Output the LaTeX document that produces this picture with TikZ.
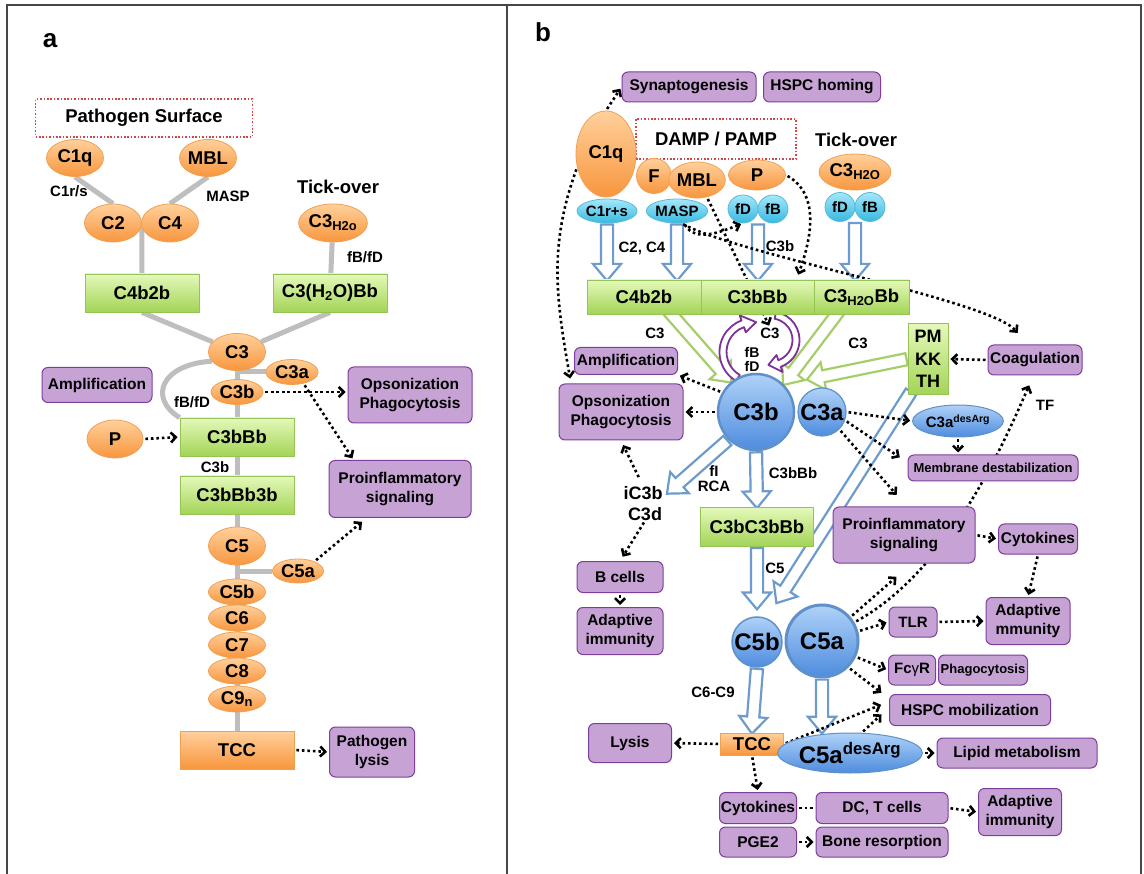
\documentclass[tikz,border=0pt]{standalone}
\usepackage{fontspec}
\setmainfont{Liberation Sans}
\usetikzlibrary{calc,shapes.geometric,shapes.arrows,arrows.meta,backgrounds}

\definecolor{framegray}{RGB}{70,70,70}
\definecolor{orangetop}{RGB}{255,208,155}
\definecolor{orangebot}{RGB}{248,150,62}
\definecolor{orangeline}{RGB}{240,160,85}
\definecolor{greentop}{RGB}{228,249,186}
\definecolor{greenbot}{RGB}{163,212,86}
\definecolor{greenline}{RGB}{150,195,85}
\definecolor{lilac}{RGB}{198,163,212}
\definecolor{lilacline}{RGB}{125,62,155}
\definecolor{cyantop}{RGB}{165,232,250}
\definecolor{cyanbot}{RGB}{55,185,225}
\definecolor{cyanline}{RGB}{90,185,215}
\definecolor{bluetop}{RGB}{175,210,248}
\definecolor{bluebot}{RGB}{78,140,222}
\definecolor{blueline}{RGB}{95,145,200}
\definecolor{arrowblue}{RGB}{110,155,205}
\definecolor{arrowgreen}{RGB}{165,205,105}
\definecolor{loopviolet}{RGB}{125,50,155}
\definecolor{linkgray}{RGB}{190,190,190}
\definecolor{surfred}{RGB}{210,70,70}

\newcommand\fsbig{\fontsize{18.5}{20}\selectfont}
\newcommand\fsmid{\fontsize{15.5}{19}\selectfont}
\newcommand\fssmall{\fontsize{15}{15}\selectfont}
\newcommand\fstiny{\fontsize{13}{15}\selectfont}
\newcommand\fshuge{\fontsize{24}{26}\selectfont}

\def\hollowarrow[#1](#2)(#3){\path let \p1=($(#3)-(#2)$), \n1={atan2(\y1,\x1)}, \n2={veclen(\x1,\y1)} in node[hollow, draw=#1, minimum height=\n2, rotate=\n1, anchor=tail] at (#2) {};}
\def\curlarrow[#1](#2)(#3:#4:#5){\draw[#1] ($(#2)+(#3:#5+3.5)$) arc[start angle=#3, end angle=#4, radius=#5+3.5] -- ($(#2)+(#4:#5+9)$) -- ($(#2)+(#4+26:#5)$) -- ($(#2)+(#4:#5-9)$) -- ($(#2)+(#4:#5-3.5)$) arc[start angle=#4, end angle=#3, radius=#5-3.5] -- cycle;}

\tikzset{
	org/.style={ellipse, draw=orangeline, line width=0.8pt, top color=orangetop, bottom color=orangebot, inner sep=0pt, font=\bfseries\fsbig},
	tccbox/.style={rectangle, draw=orangeline, line width=0.8pt, top color=orangetop, bottom color=orangebot, inner sep=0pt, font=\bfseries\fsbig},
	grn/.style={rectangle, draw=greenline, line width=0.8pt, top color=greentop, bottom color=greenbot, inner sep=0pt, font=\bfseries\fsbig},
	lil/.style={rectangle, rounded corners=6pt, draw=lilacline, line width=1pt, fill=lilac, inner sep=0pt, align=center, font=\bfseries\fsmid},
	cyn/.style={ellipse, draw=cyanline, line width=0.8pt, top color=cyantop, bottom color=cyanbot, inner sep=0pt, font=\bfseries\fssmall},
	blu/.style={circle, draw=blueline, line width=2.5pt, top color=bluetop, bottom color=bluebot, inner sep=0pt, font=\bfseries\fshuge},
	bluell/.style={ellipse, draw=blueline, line width=1pt, top color=bluetop, bottom color=bluebot, inner sep=0pt},
	lbl/.style={inner sep=0pt, align=center, font=\bfseries\fssmall},
	surf/.style={draw=surfred, line width=1.3pt, dash pattern=on 1.6pt off 1.8pt, inner sep=0pt, font=\bfseries\fsbig},
	link/.style={draw=linkgray, line width=5pt},
	dotline/.style={line width=2.6pt, dash pattern=on 2.6pt off 2.9pt},
	dotarrow/.style={dotline, shorten >=2pt, shorten <=2pt, -{Straight Barb[length=5pt,width=10pt]}},
	hollow/.style={single arrow, fill=white, line width=2.2pt, inner sep=5pt, single arrow head extend=8pt, single arrow tip angle=80},
	curl/.style={draw=loopviolet, line width=1.8pt, fill=white, line join=round},
	frame/.style={draw=framegray, line width=2pt}
}

\begin{document}
\begin{tikzpicture}[x=1pt, y=-1pt]
	\useasboundingbox (0,0) rectangle (1144,874);
	%%%%% FRAME %%%%%
	\draw[frame] (7,874) -- (7,5) -- (1141,5) -- (1141,874);
	\draw[frame] (507,5) -- (507,874);
	\node[font=\bfseries\fontsize{26}{28}\selectfont] (labA) at (50,41) {a};
	\node[font=\bfseries\fontsize{26}{28}\selectfont] (labB) at (543,32) {b};

	%%%%% PANEL A %%%%%
	\node[surf, minimum width=217, minimum height=38] (aSurf) at (144,118) {Pathogen Surface};
	\node[org, minimum width=57, minimum height=37] (aC1q) at (75,158) {C1q};
	\node[org, minimum width=57, minimum height=37] (aMBL) at (208,158) {MBL};
	\node[lbl] (aC1rs) at (69,191) {C1r/s};
	\node[lbl] (aMASP) at (228,196) {MASP};
	\node[org, minimum width=57, minimum height=38] (aC2) at (113,223) {C2};
	\node[org, minimum width=57, minimum height=38] (aC4) at (170,223) {C4};
	\node[lbl, font=\bfseries\fsbig] (aTick) at (338,187) {Tick-over};
	\node[org, minimum width=57, minimum height=38] (aC3w) at (333,223) {C3\textsubscript{H2o}};
	\node[lbl] (aFBD1) at (365,257) {fB/fD};
	\node[grn, minimum width=114, minimum height=38] (aC4b2b) at (142,293) {C4b2b};
	\node[grn, minimum width=114, minimum height=38] (aC3wBb) at (330,293) {C3(H\textsubscript{2}O)Bb};
	\node[org, minimum width=57, minimum height=37] (aC3) at (237,352) {C3};
	\node[org, minimum width=52, minimum height=25] (aC3a) at (292,372) {C3a};
	\node[org, minimum width=52, minimum height=25] (aC3b) at (237,392) {C3b};
	\node[lil, minimum width=110, minimum height=35] (aAmp) at (97,385) {Amplification};
	\node[lil, minimum width=124, minimum height=56] (aOps) at (410,395) {Opsonization\\Phagocytosis};
	\node[lbl] (aFBD2) at (192,402) {fB/fD};
	\node[org, minimum width=56, minimum height=38] (aP) at (115,439) {P};
	\node[grn, minimum width=114, minimum height=38] (aC3bBb) at (237,437) {C3bBb};
	\node[lbl] (aC3bL) at (215,467) {C3b};
	\node[grn, minimum width=114, minimum height=38] (aC3bBb3b) at (237,495) {C3bBb3b};
	\node[lil, minimum width=142, minimum height=57] (aPro) at (400,489) {Proinflammatory\\signaling};
	\node[org, minimum width=57, minimum height=38] (aC5) at (237,546) {C5};
	\node[org, minimum width=51, minimum height=24] (aC5a) at (298,571) {C5a};
	\node[org, minimum width=57, minimum height=26] (aC5b) at (237,592) {C5b};
	\node[org, minimum width=57, minimum height=26] (aC6) at (237,618) {C6};
	\node[org, minimum width=57, minimum height=26] (aC7) at (237,645) {C7};
	\node[org, minimum width=57, minimum height=26] (aC8) at (237,671) {C8};
	\node[org, minimum width=57, minimum height=26] (aC9) at (237,699) {C9\textsubscript{n}};
	\node[tccbox, minimum width=114, minimum height=38] (aTCC) at (237,750) {TCC};
	\node[lil, minimum width=85, minimum height=50] (aLysis) at (372,752) {Pathogen\\lysis};

	\begin{scope}[on background layer]
		\draw[link] (aC1q.south) -- (aC2.north);
		\draw[link] (aMBL.south) -- (aC4.north);
		\draw[link] (aC2.east) -- (aC4b2b.north);
		\draw[link] (aC3w) -- (aC3wBb);
		\draw[link] (aC4b2b.south) -- (aC3);
		\draw[link] (aC3wBb.south) -- (aC3);
		\draw[link] (aC3) -- (aTCC);
		\draw[link] (aC3a) -- (aC3a -| aC3);
		\draw[link] (aC5a) -- (aC5a -| aC5);
		\draw[link] (aC3.200) .. controls +(-50,3) and +(-32,-20) .. (aC3bBb.north west);
	\end{scope}
	\draw[dotarrow] (aC3b.east) -- (aC3b -| aOps.west);
	\draw[dotarrow] (aC3a.-45) -- (aPro.148);
	\draw[dotarrow] (aP.east) -- (aC3bBb.west);
	\draw[dotarrow, shorten >=6pt] (aC5a.30) -- (aPro.221);
	\draw[dotarrow] (aTCC.east) -- (aLysis.west);

	%%%%% PANEL B %%%%%
	\node[lil, minimum width=134, minimum height=30] (bSyn) at (689,87) {Synaptogenesis};
	\node[lil, minimum width=117, minimum height=30] (bHSPCh) at (822,87) {HSPC homing};
	\node[surf, minimum width=160, minimum height=40] (bDamp) at (716,139) {DAMP / PAMP};
	\node[lbl, font=\bfseries\fsbig] (bTick) at (856,140) {Tick-over};
	\node[org, minimum width=60, minimum height=86] (bC1q) at (606,154) {C1q};
	\node[org, minimum width=35, minimum height=35] (bF) at (654,176) {F};
	\node[org, minimum width=53, minimum height=36] (bMBL) at (697,180) {MBL};
	\node[org, minimum width=57, minimum height=30] (bP) at (757,175) {P};
	\node[org, minimum width=56, minimum height=36] (bC3w) at (855,172) {C3\textsubscript{H2O}};
	\node[cyn, minimum width=60, minimum height=24] (bC1rs) at (607,211) {C1r+s};
	\node[cyn, minimum width=58, minimum height=24] (bMASP) at (677,211) {MASP};
	\node[cyn, minimum width=30, minimum height=28] (bfD) at (743,209) {fD};
	\node[cyn, minimum width=30, minimum height=28] (bfB) at (773,209) {fB};
	\node[cyn, minimum width=30, minimum height=29] (bfDt) at (840,207) {fD};
	\node[cyn, minimum width=30, minimum height=29] (bfBt) at (870,207) {fB};
	\coordinate (bfpair) at ($(bfD.south)!0.5!(bfB.south)$);
	\coordinate (bfpairt) at ($(bfDt.south)!0.5!(bfBt.south)$);
	\node[lbl] (bLc2c4) at (642,248) {C2, C4};
	\node[lbl] (bLc3b) at (780,246) {C3b};
	\node[grn, minimum width=114, minimum height=34] (bC4b2b) at (644,297) {C4b2b};
	\node[grn, minimum width=113, minimum height=34] (bC3bBb) at (757.5,297) {C3bBb};
	\node[grn, minimum width=95, minimum height=34] (bC3wBb) at (861.5,297) {C3\textsubscript{H2O}Bb};
	\node[lbl] (bLc3l) at (655,333) {C3};
	\node[lbl] (bLoopC3) at (770,333) {C3};
	\node[lbl, font=\bfseries\fontsize{14}{14}\selectfont] (bLfbfd) at (752,359) {fB\\fD};
	\node[lbl] (bLc3r) at (858,343) {C3};
	\node[grn, minimum width=40, minimum height=71, align=center, font=\bfseries\fontsize{18}{22.5}\selectfont] (bPM) at (928,359) {PM\\KK\\TH};
	\node[lil, minimum width=94, minimum height=30] (bCoag) at (1035,360) {Coagulation};
	\node[lil, minimum width=103, minimum height=27] (bAmp) at (626,361) {Amplification};
	\node[lil, minimum width=124, minimum height=56] (bOps) at (621,412) {Opsonization\\Phagocytosis};
	\node[blu, minimum size=76] (bC3b) at (756,412) {C3b};
	\node[blu, minimum size=48, line width=1.2pt, font=\bfseries\fontsize{23.5}{24}\selectfont] (bC3a) at (822,412) {C3a};
	\node[bluell, minimum width=84, minimum height=32, font=\bfseries\fssmall] (bC3adA) at (958,421) {C3a\textsuperscript{desArg}};
	\node[lbl] (bLtf) at (1045,405) {TF};
	\node[lil, minimum width=170, minimum height=26, font=\bfseries\fstiny] (bMemb) at (993,468) {Membrane destabilization};
	\node[lbl] (bLfirca) at (714,479) {fI\\RCA};
	\node[lbl] (bLc3bbb) at (793,473) {C3bBb};
	\node[lbl, font=\bfseries\fontsize{18}{18}\selectfont] (bIC3b) at (643,493) {iC3b};
	\node[lbl, font=\bfseries\fontsize{18}{18}\selectfont] (bC3d) at (645,514) {C3d};
	\node[grn, minimum width=113, minimum height=39] (bC3bC3bBb) at (757,527) {C3bC3bBb};
	\node[lil, minimum width=142, minimum height=56] (bPro) at (904,535) {Proinflammatory\\signaling};
	\node[lil, minimum width=79, minimum height=30] (bCyto) at (1038,539) {Cytokines};
	\node[lbl] (bLc5) at (775,568) {C5};
	\node[lil, minimum width=86, minimum height=31] (bBcells) at (620,577) {B cells};
	\node[lil, minimum width=86, minimum height=47] (bAdaptL) at (620,631) {Adaptive\\immunity};
	\node[blu, minimum size=50, line width=1.5pt] (bC5b) at (757,642) {C5b};
	\node[blu, minimum size=72, line width=3pt] (bC5a) at (822,641) {C5a};
	\node[lil, minimum width=48, minimum height=30, font=\bfseries\fssmall] (bTLR) at (913,622) {TLR};
	\node[lil, minimum width=84, minimum height=47] (bAdapt) at (1028,621) {Adaptive\\mmunity};
	\node[lil, minimum width=47, minimum height=30, font=\bfseries\fssmall] (bFcgR) at (912,670) {Fc{\mdseries γ}R};
	\node[lil, minimum width=89, minimum height=30, font=\bfseries\fstiny] (bPhago) at (983,670) {Phagocytosis};
	\node[lbl] (bLc6c9) at (713,692) {C6-C9};
	\node[lil, minimum width=161, minimum height=31] (bHSPCm) at (970,710) {HSPC mobilization};
	\node[lil, minimum width=83, minimum height=39] (bLysis) at (630,743) {Lysis};
	\node[tccbox, minimum width=63, minimum height=22] (bTCC) at (752,744) {TCC};
	\node[bluell, minimum width=107, minimum height=40, font=\bfseries\fshuge] (bC5adA) at (850,753) {C5a\textsuperscript{desArg}};
	\node[lil, minimum width=160, minimum height=30] (bLipid) at (1017,753) {Lipid metabolism};
	\node[lil, minimum width=77, minimum height=31] (bCytoB) at (758,808) {Cytokines};
	\node[lil, minimum width=132, minimum height=31] (bDCT) at (882,808) {DC, T cells};
	\node[lil, minimum width=83, minimum height=47] (bAdaptR) at (1020,812) {Adaptive\\immunity};
	\node[lil, minimum width=77, minimum height=30] (bPGE2) at (758,842) {PGE2};
	\node[lil, minimum width=132, minimum height=30] (bBone) at (882,842) {Bone resorption};

	\coordinate (g1) at ($(bC4b2b.south)+(24,-4)$);
	\coordinate (g2) at ($(bC3wBb.south)+(-22,-4)$);
	\coordinate (g3) at ($(bC3a.north)+(-14,-8)$);
	\coordinate (pmfoot) at ($(bPM.south west)+(4,-4)$);
	\coordinate (c5bhead) at ($(bC5b.north)+(20,-14)$);
	\coordinate (c5bstem) at ($(bC5b.north)+(0,-8)$);
	\coordinate (ic3bhead) at ($(bIC3b.east)+(5,0)$);
	\coordinate (loopL) at ($(bC3b.center)+(-3,-60)$);
	\coordinate (loopR) at ($(bC3b.center)+(15,-72)$);

	\begin{scope}[on background layer]
		\hollowarrow[arrowblue](bC1rs.south)(bC4b2b.north -| bC1rs.south)
		\hollowarrow[arrowblue](bMASP.south)(bC4b2b.north -| bMASP.south)
		\hollowarrow[arrowblue](bfpair)(bC3bBb.north -| bfpair)
		\hollowarrow[arrowblue](bfpairt)(bC3wBb.north -| bfpairt)
		\hollowarrow[arrowgreen](g1)(bC3b.130)
		\hollowarrow[arrowgreen](g2)(bC3b.45)
		\hollowarrow[arrowgreen](bPM.west)(g3)
		\hollowarrow[arrowblue](bC3b.225)(ic3bhead)
		\hollowarrow[arrowblue](bC3b.south)(bC3bC3bBb.north)
		\hollowarrow[arrowblue](bC3bC3bBb.south)(c5bstem)
		\hollowarrow[arrowblue](pmfoot)(c5bhead)
		\hollowarrow[arrowblue](bC5b.south)(bTCC.north)
		\hollowarrow[arrowblue](bC5a.south)(bC5adA.north -| bC5a.south)
		\curlarrow[curl](loopL)(120:250:30)
		\curlarrow[curl](loopR)(-80:70:25)

		\draw[dotarrow] (bC1q.north) -- (bSyn.west);
		\draw[dotarrow] (bC1q.205) to[out=250, in=100] ($(bOps.north west)+(12,-3)$);
		\draw[dotarrow] (bMASP.-60) to[out=-60, in=200] (bfD.south);
		\draw[dotarrow] (bMBL.-60) -- (bLoopC3.north);
		\draw[dotarrow] (bP.east) to[out=-30, in=70] ($(bC3bBb.north)+(40,-3)$);
		\draw[dotarrow] (bMASP.-70) .. controls (740,255) and (990,300) .. ($(bCoag.north)+(-16,-10)$);
		\draw[dotarrow] (bC3b.150) -- (bAmp.south east);
		\draw[dotarrow] (bC3b.west) -- (bOps.east);
		\draw[dotarrow, shorten <=10pt, shorten >=5pt] (bIC3b.north) -- (bOps.south);
		\draw[dotarrow, shorten >=5pt] (bC3d.south) -- (bBcells.north);
		\draw[dotarrow] (bBcells.south) -- (bAdaptL.north);
		\draw[dotarrow] (bCoag.west) -- (bPM.east);
		\draw[dotarrow] (bC3a.east) -- (bC3adA.west);
		\draw[dotarrow] (bC3a.-20) -- ($(bMemb.north west)+(-6,4)$);
		\draw[dotarrow] (bC3a.-45) -- ($(bPro.north)+(-6,-10)$);
		\draw[dotarrow] (bC3adA.south) -- (bMemb.north -| bC3adA.south);
		\draw[dotarrow] (bC5a.30) .. controls (950,570) and (1005,440) .. ($(bCoag.south)+(-5,8)$);
		\draw[dotarrow] (bPro.east) -- (bCyto.west);
		\draw[dotarrow] (bCyto.south) -- (bAdapt.north);
		\draw[dotarrow] (bTLR.east) -- (bAdapt.west);
		\draw[dotarrow] (bC5a.40) -- ($(bPro.south)+(-6,12)$);
		\draw[dotarrow] (bC5a.15) -- (bTLR.west);
		\draw[dotarrow] (bC5a.-25) -- (bFcgR.west);
		\draw[dotarrow] (bC5a.-45) -- ($(bHSPCm.north west)+(-6,0)$);
		\draw[dotarrow] (bTCC.east) -- ($(bHSPCm.west)+(-6,-6)$);
		\draw[dotarrow] (bC5adA.60) -- ($(bHSPCm.west)+(-6,3)$);
		\draw[dotarrow] (bC5adA.east) -- (bLipid.west);
		\draw[dotarrow] (bTCC.west) -- (bLysis.east);
		\draw[dotarrow] (bTCC.south) -- (bCytoB.north);
		\draw[dotline, shorten >=2pt, shorten <=2pt] (bCytoB.east) -- (bDCT.west);
		\draw[dotarrow] (bDCT.east) -- (bAdaptR.west);
		\draw[dotarrow] (bPGE2.east) -- (bBone.west);
	\end{scope}
\end{tikzpicture}
\end{document}
